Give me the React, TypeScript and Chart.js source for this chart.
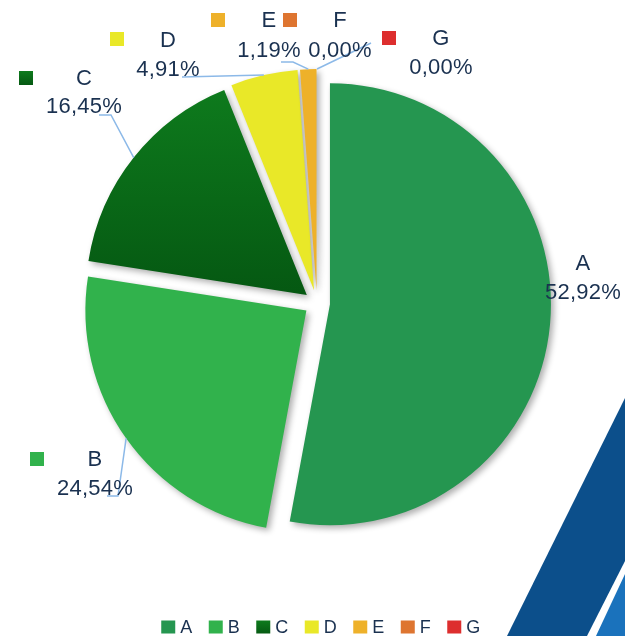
import React, { useEffect, useRef } from 'react';
import { Chart, registerables } from 'chart.js';

Chart.register(...registerables);

// ---- data ----
const categories = ['A', 'B', 'C', 'D', 'E', 'F', 'G'];
const shares = [52.92, 24.54, 16.45, 4.91, 1.19, 0, 0];
const sliceColors = ['#259650', '#31B24C', '#0A6E19', '#E9E828', '#EEB12A', '#DE7530', '#DD2E2E'];

// ---- label layout (name centre, value line, key square, leader elbow points) ----
const labelLayout = [
  { nx: 583, ny: 263, vy: 292, kx: null as number | null, ky: 263, leader: [] as number[][] },
  { nx: 95, ny: 459, vy: 488, kx: 37, ky: 459, leader: [[118, 496], [107, 496]] },
  { nx: 84, ny: 78, vy: 106, kx: 26, ky: 78, leader: [[111, 115], [99, 115]] },
  { nx: 168, ny: 40, vy: 69, kx: 117, ky: 39, leader: [[182, 77]] },
  { nx: 269, ny: 20, vy: 50, kx: 218, ky: 20, leader: [[293, 62], [281, 62]] },
  { nx: 340, ny: 20, vy: 50, kx: 290, ky: 20, leader: [[371, 43]] },
  { nx: 441, ny: 38, vy: 67, kx: 389, ky: 38, leader: [] as number[][] },
];

const EXPLODE = 13;
const RADIUS = 221;
const TEXT_COLOR = '#1A3150';
const LEADER_COLOR = '#8CB9E8';
const LABEL_FONT = '22px "Liberation Sans", Arial, sans-serif';
const LEGEND_FONT = '18px "Liberation Sans", Arial, sans-serif';

const fmt = (v: number) => v.toFixed(2).replace('.', ',') + '%';

function darkGreenGradient(ctx: CanvasRenderingContext2D, y0: number, y1: number) {
  const g = ctx.createLinearGradient(0, y0, 0, y1);
  g.addColorStop(0, '#0E7B1D');
  g.addColorStop(1, '#055812');
  return g;
}

function keyFill(ctx: CanvasRenderingContext2D, i: number, y: number, size: number) {
  if (i === 2) return darkGreenGradient(ctx, y, y + size);
  return sliceColors[i];
}

const backgroundPlugin = {
  id: 'stripes',
  beforeDraw(chart: any) {
    const { ctx, width, height } = chart;
    ctx.save();
    ctx.fillStyle = '#ffffff';
    ctx.fillRect(0, 0, width, height);
    ctx.fillStyle = '#0C4F8B';
    ctx.beginPath();
    ctx.moveTo(625, 398);
    ctx.lineTo(625, 561);
    ctx.lineTo(587, 636);
    ctx.lineTo(507, 636);
    ctx.closePath();
    ctx.fill();
    ctx.fillStyle = '#1A72BC';
    ctx.beginPath();
    ctx.moveTo(625, 574);
    ctx.lineTo(625, 636);
    ctx.lineTo(596, 636);
    ctx.closePath();
    ctx.fill();
    ctx.restore();
  },
};

const explodePlugin = {
  id: 'explode',
  beforeDatasetDraw(chart: any, args: any) {
    args.meta.data.forEach((el: any) => {
      if (el.__patched) return;
      el.__patched = true;
      const orig = el.draw;
      el.draw = function (ctx: CanvasRenderingContext2D, area: any) {
        const mid = (this.startAngle + this.endAngle) / 2;
        ctx.save();
        ctx.translate(Math.cos(mid) * EXPLODE, Math.sin(mid) * EXPLODE);
        ctx.shadowColor = 'rgba(0,0,0,0.32)';
        ctx.shadowBlur = 6;
        ctx.shadowOffsetX = 3;
        ctx.shadowOffsetY = 3;
        orig.call(this, ctx, area);
        ctx.restore();
      };
    });
  },
};

const labelPlugin = {
  id: 'outsideLabels',
  afterDatasetsDraw(chart: any) {
    const { ctx } = chart;
    const meta = chart.getDatasetMeta(0);
    ctx.save();
    // leaders
    ctx.strokeStyle = LEADER_COLOR;
    ctx.lineWidth = 1.5;
    meta.data.forEach((el: any, i: number) => {
      const lay = labelLayout[i];
      if (!lay || lay.leader.length === 0) return;
      const mid = (el.startAngle + el.endAngle) / 2;
      const cx = el.x + Math.cos(mid) * EXPLODE;
      const cy = el.y + Math.sin(mid) * EXPLODE;
      const sx = cx + Math.cos(mid) * el.outerRadius;
      const sy = cy + Math.sin(mid) * el.outerRadius;
      ctx.beginPath();
      ctx.moveTo(sx, sy);
      lay.leader.forEach((p) => ctx.lineTo(p[0], p[1]));
      ctx.stroke();
    });
    // texts and keys
    ctx.font = LABEL_FONT;
    (ctx as any).letterSpacing = '0.2px';
    ctx.textAlign = 'center';
    ctx.textBaseline = 'middle';
    categories.forEach((name, i) => {
      const lay = labelLayout[i];
      const ks = 14;
      if (lay.kx !== null) {
        ctx.fillStyle = keyFill(ctx, i, lay.ky - ks / 2, ks);
        ctx.fillRect(lay.kx - ks / 2, lay.ky - ks / 2, ks, ks);
      }
      ctx.fillStyle = TEXT_COLOR;
      ctx.fillText(name, lay.nx, lay.ny + 1);
      ctx.fillText(fmt(shares[i]), lay.nx, lay.vy + 1);
    });
    ctx.restore();
  },
  afterDraw(chart: any) {
    const { ctx } = chart;
    ctx.save();
    ctx.font = LEGEND_FONT;
    (ctx as any).letterSpacing = '0.5px';
    ctx.textAlign = 'left';
    ctx.textBaseline = 'middle';
    const box = 14;
    const gapText = 5;
    const gapItem = 16;
    const widths = categories.map((c) => ctx.measureText(c).width);
    const total = widths.reduce((s, w) => s + box + gapText + w, 0) + gapItem * (categories.length - 1);
    let x = 321 - total / 2;
    const y = 627.5;
    categories.forEach((c, i) => {
      ctx.fillStyle = keyFill(ctx, i, y - box / 2, box);
      ctx.fillRect(x, y - box / 2, box, box - 1);
      ctx.fillStyle = TEXT_COLOR;
      ctx.fillText(c, x + box + gapText, y + 1);
      x += box + gapText + widths[i] + gapItem;
    });
    ctx.restore();
  },
};

export default function App() {
  const ref = useRef<HTMLCanvasElement | null>(null);
  useEffect(() => {
    if (!ref.current) return;
    const chart = new Chart(ref.current, {
      type: 'pie',
      data: {
        labels: categories,
        datasets: [
          {
            data: shares,
            radius: RADIUS,
            borderWidth: 0,
            backgroundColor: (c: any) => {
              const i = c.dataIndex;
              const ca = c.chart.chartArea;
              if (i === 2 && ca) {
                const cy = (ca.top + ca.bottom) / 2;
                return darkGreenGradient(c.chart.ctx, cy - RADIUS * 0.95, cy);
              }
              return sliceColors[i];
            },
          } as any,
        ],
      },
      options: {
        responsive: false,
        animation: false,
        layout: { padding: { left: 9, right: 0, top: 0, bottom: 30 } },
        plugins: {
          legend: { display: false },
          tooltip: { enabled: false },
          title: { display: false },
        },
      },
      plugins: [backgroundPlugin, explodePlugin, labelPlugin],
    });
    return () => chart.destroy();
  }, []);
  return (
    <div style={{ position: 'absolute', left: 0, top: 0, width: 625, height: 636, background: '#fff' }}>
      <canvas ref={ref} width={625} height={636} style={{ display: 'block' }} />
    </div>
  );
}
